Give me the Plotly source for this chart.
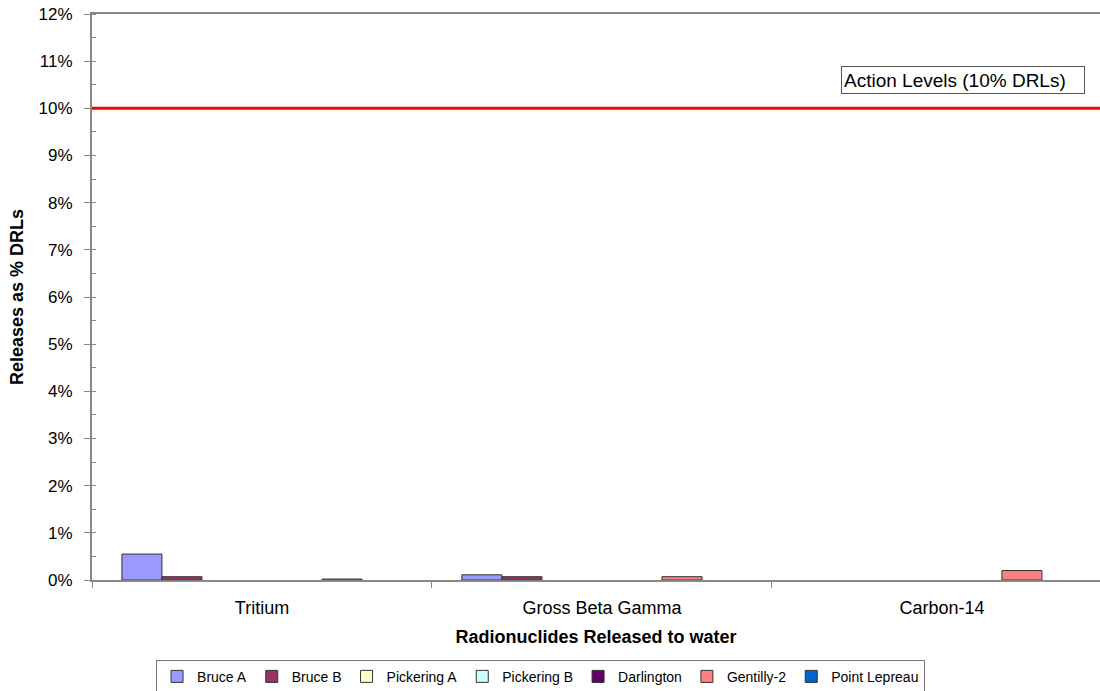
import plotly.graph_objects as go

categories = ["Tritium", "Gross Beta Gamma", "Carbon-14"]
series_names = ["Bruce A", "Bruce B", "Pickering A", "Pickering B", "Darlington", "Gentilly-2", "Point Lepreau"]
bruce_a = [0.55, 0.11, 0.0]
bruce_b = [0.07, 0.07, 0.0]
pickering_a = [0.0, 0.0, 0.0]
pickering_b = [0.0, 0.0, 0.0]
darlington = [0.0, 0.0, 0.0]
gentilly_2 = [0.02, 0.07, 0.20]
point_lepreau = [0.0, 0.0, 0.0]
series_values = [bruce_a, bruce_b, pickering_a, pickering_b, darlington, gentilly_2, point_lepreau]
colors = ["#9999FF", "#993366", "#FFFFCC", "#CCFFFF", "#660066", "#FF8080", "#0066CC"]
action_level = 10
y_tick_values = list(range(0, 13))
y_tick_labels = [f"{v}%" for v in y_tick_values]

FONT = "Liberation Sans, Arial"

fig = go.Figure()
for name, vals, col in zip(series_names, series_values, colors):
    fig.add_trace(go.Bar(
        name=name, x=categories,
        y=[v if v > 0 else None for v in vals],  # zero releases draw no bar
        marker=dict(color=col, line=dict(color="#333333", width=1)),
    ))

fig.add_shape(type="line", xref="paper", x0=0, x1=1, yref="y", y0=action_level, y1=action_level,
              line=dict(color="#FF0000", width=3))
fig.add_annotation(
    text="Action Levels (10% DRLs)", xref="paper", x=0.864, xanchor="center",
    yref="y", y=10.6, yanchor="middle",
    showarrow=False, font=dict(family=FONT, size=19, color="#000000"),
    width=238, height=22, align="left",
    bordercolor="#555555", borderwidth=1, borderpad=2, bgcolor="white",
)

fig.update_layout(
    width=1100, height=691,
    margin=dict(l=92, r=0, t=14, b=111, autoexpand=False),
    paper_bgcolor="white", plot_bgcolor="white",
    barmode="group", bargap=0.176, bargroupgap=0,
    font=dict(family=FONT, size=16, color="#000000"),
    showlegend=True,
    legend=dict(
        orientation="h", x=0.445, xanchor="center", y=-0.171, yanchor="middle",
        bordercolor="#777777", borderwidth=1, font=dict(size=14),
        itemwidth=30, tracegroupgap=0, traceorder="normal",
    ),
    xaxis=dict(
        range=[-0.5, 2.465],
        showline=True, linecolor="#888888", linewidth=2, mirror=True,
        ticks="outside", tickson="boundaries", ticklen=6, tickcolor="#888888",
        tickfont=dict(size=18),
        ticklabelstandoff=10,
        title=dict(text="<b>Radionuclides Released to water</b>", font=dict(size=18), standoff=14),
        showgrid=False,
    ),
    yaxis=dict(
        range=[0, 12],
        tickvals=y_tick_values, ticktext=y_tick_labels,
        showline=True, linecolor="#888888", linewidth=2,
        ticks="outside", ticklen=6, tickcolor="#888888",
        minor=dict(dtick=0.5, ticks="inside", ticklen=4, tickcolor="#888888"),
        tickfont=dict(size=17),
        ticklabelstandoff=8,
        title=dict(text="<b>Releases as % DRLs</b>", font=dict(size=18), standoff=10),
        showgrid=False, zeroline=False,
    ),
)

fig.write_html("out.html")
